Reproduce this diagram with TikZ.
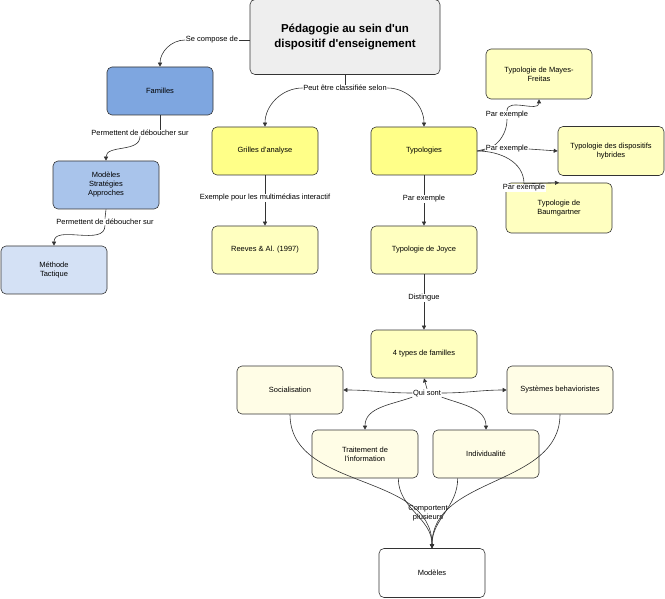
\documentclass[tikz,border=0pt]{standalone}
\usepackage{fontspec}
\setmainfont{Liberation Sans}
\usetikzlibrary{arrows.meta}
\definecolor{titlefill}{HTML}{EEEEEE}
\definecolor{fam}{HTML}{7EA6E0}
\definecolor{modfill}{HTML}{A9C4EB}
\definecolor{metfill}{HTML}{D4E1F5}
\definecolor{strong}{HTML}{FFFF88}
\definecolor{pale}{HTML}{FFFFC0}
\definecolor{cream}{HTML}{FFFDE6}
\newcommand{\ap}{\textquotesingle}
\begin{document}
\begin{tikzpicture}[x=1pt,y=-1pt,>={Triangle[length=4pt,width=4pt]},
    every node/.style={font=\fontsize{7.5}{9}\selectfont,align=center},
    box/.style={draw=black!80,semithick,rounded corners=5pt,minimum width=106pt,minimum height=48pt,inner sep=1pt},
    lbl/.style={fill=white,inner sep=0.5pt},
    link/.style={->,draw=black!80,semithick}]
  \useasboundingbox (0,0) rectangle (665,599);
  % boxes
  \node[box,fill=titlefill,minimum width=190pt,minimum height=75pt,font=\bfseries\fontsize{11.5}{15}\selectfont] (title) at (345,37) {Pédagogie au sein d\ap un\\dispositif d\ap enseignement};
  \node[box,fill=fam] (familles) at (160,91) {Familles};
  \node[box,fill=modfill] (modeles) at (106,185) {Modèles\\Stratégies\\Approches};
  \node[box,fill=metfill] (methode) at (54,270) {Méthode\\Tactique};
  \node[box,fill=strong] (grilles) at (265,151) {Grilles d\ap analyse};
  \node[box,fill=pale] (reeves) at (265,250) {Reeves \& Al. (1997)};
  \node[box,fill=strong] (typo) at (424,151) {Typologies};
  \node[box,fill=pale,minimum height=50pt] (mayes) at (539,74) {Typologie de Mayes-\\Freitas};
  \node[box,fill=pale,minimum height=49pt] (hybrid) at (611,151) {Typologie des dispositifs\\hybrides};
  \node[box,fill=pale,minimum height=50pt] (baum) at (559,208) {Typologie de\\Baumgartner};
  \node[box,fill=pale] (joyce) at (424,250) {Typologie de Joyce};
  \node[box,fill=pale] (types) at (424,354) {4 types de familles};
  \node[box,fill=cream] (social) at (290,390) {Socialisation};
  \node[box,fill=cream] (behav) at (560,390) {Systèmes behavioristes};
  \node[box,fill=cream] (traite) at (365,454) {Traitement de\\l\ap information};
  \node[box,fill=cream] (indiv) at (486,454) {Individualité};
  \node[box,fill=white,minimum height=49pt] (mod) at (432,573) {Modèles};
  % connectors
  \node[lbl] (compose) at (212,40) {Se compose de};
  \draw[semithick,draw=black!80] (title.west |- compose) -- (compose.east);
  \draw[link] (compose.west) to[out=180,in=90] (familles.north);
  \node[lbl] (classe) at (345,88) {Peut être classifiée selon};
  \draw[semithick,draw=black!80] (title.south) -- (classe.north);
  \draw[link] (classe) to[out=180,in=90] (grilles.north);
  \draw[link] (classe) to[out=0,in=90] (typo.north);
  \node[lbl] (deb1) at (140,133) {Permettent de déboucher sur};
  \draw[semithick,draw=black!80] (familles.south) -- (familles.south |- deb1.north);
  \draw[link] (deb1.south) to[out=-90,in=90] (modeles.north);
  \node[lbl] (deb2) at (105,222) {Permettent de déboucher sur};
  \draw[semithick,draw=black!80] (modeles.south) -- (deb2.north);
  \draw[link] (deb2.south) to[out=-90,in=90] (methode.north);
  \node[lbl] (exmulti) at (265,198) {Exemple pour les multimédias interactif};
  \draw[semithick,draw=black!80] (grilles.south) -- (exmulti.north);
  \draw[link] (exmulti.south) -- (reeves.north);
  \node[lbl] (exjoyce) at (424,199) {Par exemple};
  \draw[semithick,draw=black!80] (typo.south) -- (exjoyce.north);
  \draw[link] (exjoyce.south) -- (joyce.north);
  \node[lbl] (exmayes) at (507,115) {Par exemple};
  \draw[link] (typo.east) to[out=0,in=-90] (exmayes) to[out=90,in=-90] (mayes.south);
  \node[lbl] (exhyb) at (507,149) {Par exemple};
  \draw[link] (typo.east) -- (exhyb.west) (exhyb.east) -- (hybrid.west);
  \node[lbl] (exbaum) at (524,188) {Par exemple};
  \draw[link] (typo.east) to[out=0,in=90] (exbaum.north) -- (baum.north);
  \node[lbl] (dist) at (424,298) {Distingue};
  \draw[semithick,draw=black!80] (joyce.south) -- (dist.north);
  \draw[link] (dist.south) -- (types.north);
  \node[lbl] (quisont) at (427,393) {Qui sont};
  \draw[link] (quisont.north) -- (types.south);
  \draw[link] (quisont.west) to[out=180,in=0] (social.east);
  \draw[link] (quisont.east) to[out=0,in=180] (behav.east -| behav.west);
  \draw[link] (quisont.south west) to[out=200,in=90] (traite.north);
  \draw[link] (quisont.south east) to[out=-20,in=90] (indiv.north);
  \node[lbl,fill=none] (comporte) at (428,513) {Comportent\\plusieurs};
  \draw[link] (social.south) to[out=-90,in=90] (mod.north);
  \draw[link] (behav.south) to[out=-90,in=90] (mod.north);
  \draw[link] (traite.south east) ++(-20,0) to[out=-90,in=90] (mod.north);
  \draw[link] (indiv.south west) ++(25,0) to[out=-90,in=90] (mod.north);
\end{tikzpicture}
\end{document}
